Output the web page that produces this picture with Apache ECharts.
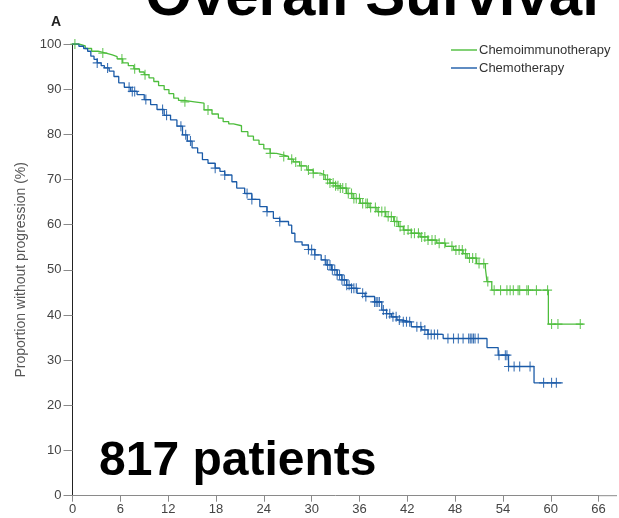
<!DOCTYPE html>
<html>
<head>
<meta charset="utf-8">
<script src="https://cdn.jsdelivr.net/npm/echarts@6/dist/echarts.min.js"></script>
<style>
  html, body { margin: 0; padding: 0; background: #fff; }
  #chart { width: 619px; height: 518px; }
</style>
</head>
<body>
<div id="chart"></div>
<script>
// Kaplan–Meier progression-free estimates (months, % without progression)
const xTicks = [0, 6, 12, 18, 24, 30, 36, 42, 48, 54, 60, 66];
const yTicks = [0, 10, 20, 30, 40, 50, 60, 70, 80, 90, 100];

const chemoimmunoMonths = [0, 0.8, 1.6, 2.4, 3.2, 4.2, 5.0, 5.6, 6.3, 7.0, 7.7, 8.4, 9.0, 9.6, 10.2, 10.8, 11.5, 12.1, 12.7, 13.3, 14.0, 15.3, 16.5, 17.5, 18.3, 18.9, 19.6, 20.2, 21.2, 22.0, 22.7, 23.4, 24.0, 24.8, 25.6, 26.5, 27.1, 27.7, 28.5, 29.4, 30.2, 31.1, 31.7, 32.3, 33.0, 33.6, 34.4, 35.2, 36.1, 37.2, 38.2, 39.3, 40.3, 40.9, 41.5, 42.5, 43.6, 44.6, 45.7, 46.8, 47.8, 49.0, 49.5, 50.7, 51.8, 52.0, 52.6, 59.7, 64.1];
const chemoimmunoPct    = [100, 99.6, 99.0, 98.4, 98.0, 97.6, 97.2, 96.7, 95.8, 95.2, 94.5, 93.8, 93.2, 92.5, 91.7, 90.8, 89.9, 89.0, 88.0, 87.5, 87.2, 86.9, 85.4, 84.5, 83.6, 82.8, 82.3, 81.9, 80.6, 79.6, 78.7, 77.8, 76.8, 75.8, 75.4, 75.1, 74.5, 73.9, 73.0, 72.1, 71.4, 71.0, 70.0, 69.2, 68.6, 68.1, 66.9, 65.8, 64.7, 63.8, 62.9, 61.8, 60.7, 59.6, 58.8, 58.1, 57.3, 56.6, 55.9, 55.2, 54.4, 53.6, 52.6, 51.4, 50.3, 47.4, 45.5, 38.0, 38.0];
const chemoimmunoCensored = [0.3, 3.8, 6.2, 7.8, 9.1, 14.1, 17.0, 24.8, 26.5, 27.5, 28.0, 28.7, 29.6, 30.2, 31.5, 32.0, 32.3, 32.7, 33.0, 33.3, 33.6, 33.9, 34.3, 34.6, 35.0, 35.3, 35.6, 36.0, 36.4, 36.8, 37.0, 37.4, 38.0, 38.4, 38.8, 39.2, 39.6, 40.0, 40.4, 40.7, 41.1, 41.6, 42.1, 42.5, 42.9, 43.4, 43.8, 44.2, 44.6, 45.1, 45.5, 46.0, 46.7, 47.6, 48.1, 48.5, 48.9, 49.3, 49.8, 50.2, 50.6, 51.0, 51.6, 52.1, 52.9, 53.7, 54.5, 54.9, 55.3, 55.9, 56.1, 57.0, 57.2, 58.2, 59.6, 60.1, 60.9, 63.7];

const chemoMonths = [0, 0.8, 1.4, 1.9, 2.3, 2.7, 3.1, 3.6, 4.0, 4.6, 5.2, 5.8, 6.5, 7.3, 8.1, 9.0, 9.8, 10.6, 11.5, 12.3, 13.1, 13.8, 14.4, 15.0, 15.7, 16.3, 17.0, 17.9, 18.5, 19.1, 20.0, 20.6, 21.6, 22.5, 23.5, 24.4, 25.2, 26.0, 27.1, 27.5, 27.9, 28.8, 29.6, 30.4, 31.2, 31.8, 32.5, 33.2, 33.8, 34.4, 35.0, 35.7, 36.7, 37.9, 38.8, 39.4, 40.0, 40.7, 41.3, 42.5, 43.8, 44.6, 46.5, 52.0, 53.4, 54.7, 57.9, 61.5];
const chemoPct    = [100, 99.5, 99.0, 98.4, 97.3, 96.6, 95.8, 95.2, 94.7, 94.0, 92.8, 91.4, 90.4, 89.5, 88.8, 87.7, 86.6, 85.5, 84.2, 83.2, 81.8, 79.9, 78.5, 77.0, 75.9, 74.4, 73.6, 72.5, 71.8, 71.0, 69.5, 68.1, 66.9, 65.6, 64.0, 62.9, 61.4, 60.7, 59.9, 58.1, 56.2, 55.5, 54.5, 53.3, 52.2, 51.1, 50.0, 48.9, 47.8, 46.6, 45.9, 44.8, 44.1, 42.9, 41.1, 40.3, 39.6, 38.9, 38.5, 37.4, 36.7, 35.7, 34.8, 32.8, 31.1, 28.6, 25.0, 25.0];
const chemoCensored = [3.1, 4.4, 7.1, 7.5, 7.8, 9.2, 11.3, 11.8, 13.6, 14.2, 14.8, 17.9, 19.1, 21.9, 22.5, 24.4, 26.0, 29.6, 30.0, 30.4, 31.7, 32.0, 32.3, 32.6, 32.9, 33.2, 33.5, 33.8, 34.1, 34.4, 34.7, 35.0, 35.3, 35.6, 36.4, 36.8, 37.9, 38.1, 38.3, 38.5, 39.0, 39.4, 39.8, 40.2, 40.6, 41.0, 41.5, 41.9, 42.3, 43.2, 43.7, 44.2, 44.6, 45.0, 45.4, 45.8, 47.1, 47.8, 48.4, 49.0, 49.7, 49.9, 50.1, 50.3, 50.5, 50.9, 53.5, 54.3, 54.5, 54.7, 55.4, 56.1, 57.4, 59.1, 60.1, 60.7];

const seriesNames = ['Chemoimmunotherapy', 'Chemotherapy'];
const GREEN = '#4dbd3c';
const BLUE = '#1b5ba8';

// survival value in effect at time t (right-continuous step function)
function survivalAt(months, pct, t) {
  let v = pct[0];
  for (let i = 0; i < months.length; i++) {
    if (months[i] <= t) v = pct[i]; else break;
  }
  return v;
}

const pairs = (xs, ys) => xs.map((x, i) => [x, ys[i]]);
const censorPoints = (times, months, pct) => times.map(t => [t, survivalAt(months, pct, t)]);

const PLUS = 'path://M4.4,0H5.6V4.4H10V5.6H5.6V10H4.4V5.6H0V4.4H4.4Z';
const FONT = '"Liberation Sans", Arial, sans-serif';

const chart = echarts.init(document.getElementById('chart'), null, { renderer: 'canvas' });

chart.setOption({
  animation: false,
  backgroundColor: '#fff',
  grid: { left: 72.5, right: 20.4, top: 44, bottom: 22.3, containLabel: false },
  legend: {
    left: 446, top: 36, orient: 'vertical', itemGap: 0,
    itemWidth: 26, itemHeight: 1.4, icon: 'rect',
    textStyle: { fontFamily: FONT, fontSize: 13, color: '#333', lineHeight: 18, padding: [0, 0, 0, -3] },
    data: seriesNames
  },
  xAxis: {
    type: 'value', min: xTicks[0], max: xTicks[xTicks.length - 1], interval: 6,
    axisLine: { show: true, lineStyle: { color: '#8a8a8a', width: 1 } },
    axisTick: { show: true, length: 6, lineStyle: { color: '#8a8a8a' } },
    axisLabel: { margin: 7, fontFamily: FONT, fontSize: 13, color: '#444' },
    splitLine: { show: false }
  },
  yAxis: {
    type: 'value', min: yTicks[0], max: yTicks[yTicks.length - 1], interval: 10,
    name: 'Proportion without progression (%)',
    nameLocation: 'middle', nameGap: 44, nameRotate: 90,
    nameTextStyle: { fontFamily: FONT, fontSize: 14, color: '#555' },
    axisLine: { show: true, lineStyle: { color: '#222', width: 1 } },
    axisTick: { show: true, length: 9, lineStyle: { color: '#8a8a8a' } },
    axisLabel: { margin: 11, fontFamily: FONT, fontSize: 13, color: '#444' },
    splitLine: { show: false }
  },
  graphic: [
    // x axis line runs on past the last tick
    { type: 'line', shape: { x1: 598.6, y1: 495.7, x2: 617, y2: 495.7 }, style: { stroke: '#8a8a8a', lineWidth: 1 }, silent: true },
    { type: 'text', x: 372, y: -2, style: { text: 'Overall Survival', fontSize: 60, fontWeight: 'bold', fontFamily: FONT, fill: '#000', align: 'center', verticalAlign: 'middle' } },
    { type: 'text', x: 56, y: 22, style: { text: 'A', fontSize: 14, fontWeight: 'bold', fontFamily: FONT, fill: '#222', align: 'center', verticalAlign: 'middle' } },
    { type: 'text', x: 99, y: 462, z: 100, style: { text: '817 patients', fontSize: 48, fontWeight: 'bold', fontFamily: FONT, fill: '#000', align: 'left', verticalAlign: 'middle' } }
  ],
  series: [
    {
      name: seriesNames[0], type: 'line', step: 'end', showSymbol: false, symbol: 'none',
      data: pairs(chemoimmunoMonths, chemoimmunoPct),
      lineStyle: { color: GREEN, width: 1.3 }, itemStyle: { color: GREEN }, z: 3
    },
    {
      name: seriesNames[1], type: 'line', step: 'end', showSymbol: false, symbol: 'none',
      data: pairs(chemoMonths, chemoPct),
      lineStyle: { color: BLUE, width: 1.3 }, itemStyle: { color: BLUE }, z: 3
    },
    {
      name: seriesNames[0] + ' censored', type: 'scatter', symbol: PLUS, symbolSize: [9, 10],
      data: censorPoints(chemoimmunoCensored, chemoimmunoMonths, chemoimmunoPct),
      itemStyle: { color: GREEN, opacity: 0.85 }, z: 4
    },
    {
      name: seriesNames[1] + ' censored', type: 'scatter', symbol: PLUS, symbolSize: [9, 10],
      data: censorPoints(chemoCensored, chemoMonths, chemoPct),
      itemStyle: { color: BLUE, opacity: 0.85 }, z: 4
    }
  ]
});
</script>
</body>
</html>
